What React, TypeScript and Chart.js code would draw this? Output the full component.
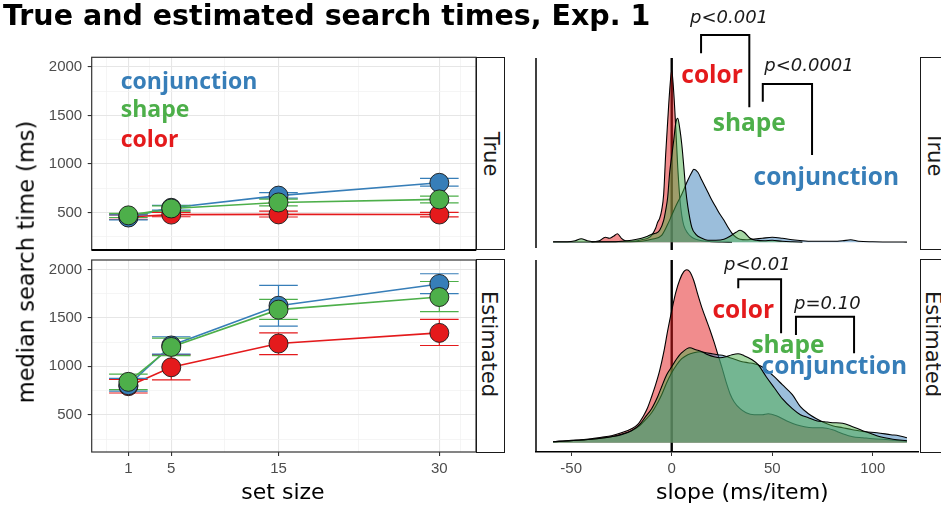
import React, { useEffect, useRef } from "react";
import { Chart, registerables } from "chart.js";

Chart.register(...registerables);

const RED = "#e41a1c";
const BLUE = "#377eb8";
const GREEN = "#4daf4a";
const AXIS_TEXT = "#4d4d4d";
const TICK_FAMILY = "'Liberation Sans', Arial, sans-serif";
const TEXT_FAMILY = "'DejaVu Sans', sans-serif";
const LABEL_FAMILY = "'Open Sans', 'Noto Sans', sans-serif";

// ================= DATA =================
// Left panels: median search time (ms) by set size
const setSizes = [1, 5, 15, 30];

const trueColorMedian = [455, 480, 482, 481];
const trueColorLow = [432, 458, 455, 457];
const trueColorHigh = [478, 502, 515, 502];
const trueConjMedian = [450, 550, 675, 807];
const trueConjLow = [425, 525, 650, 773];
const trueConjHigh = [478, 575, 705, 852];
const trueShapeMedian = [472, 543, 605, 636];
const trueShapeLow = [450, 515, 570, 601];
const trueShapeHigh = [492, 570, 640, 670];

const estColorMedian = [795, 990, 1235, 1345];
const estColorLow = [725, 860, 1120, 1215];
const estColorHigh = [865, 1120, 1345, 1485];
const estConjMedian = [805, 1215, 1625, 1850];
const estConjLow = [745, 1125, 1415, 1750];
const estConjHigh = [875, 1305, 1835, 1955];
const estShapeMedian = [840, 1200, 1585, 1715];
const estShapeLow = [760, 1110, 1485, 1565];
const estShapeHigh = [920, 1290, 1690, 1875];

const yTickValues = [500, 1000, 1500, 2000];
const yMinorValues = [250, 750, 1250, 1750];
const xTickValues = [1, 5, 15, 30];
const xMinorValues = [-1, 3, 10, 22.5, 32];
const slopeTickValues = [-50, 0, 50, 100];

// Right panels: density of slopes (ms/item); density axis hidden, arbitrary units
const trueColorSlope = [-40, -36, -33, -31, -29, -27, -25, -23, -20, -17, -14, -12, -10, -8, -7, -6, -5, -4, -3, -2, -1, 0, 1, 2, 3, 4, 5, 6, 8, 10, 12, 15, 20, 25, 30];
const trueColorDensity = [0.3, 1.5, 5, 4, 6, 8.5, 4, 1.5, 1, 1.5, 3, 4, 7, 14, 20, 24, 32, 48, 88, 121, 152, 172, 150, 115, 75, 45, 27, 17, 9, 5, 3, 1.5, 0.5, 0.3, 0.1];
const trueShapeSlope = [-59, -52, -48, -45, -42, -38, -30, -25, -20, -15, -12, -10, -8, -6, -4, -3, -2, -1, 0, 1, 2, 3, 4, 5, 6, 7, 8, 10, 12, 15, 18, 22, 26, 29, 32, 34, 36, 39, 42, 46, 50, 55, 60, 65];
const trueShapeDensity = [0.5, 0.5, 1.5, 3.5, 1.5, 0.5, 0.5, 1, 2, 4, 6, 8, 9, 12, 22, 32, 45, 70, 86, 102, 119, 124, 114, 98, 76, 52, 36, 15, 8, 4, 2, 2, 3, 6, 10, 12, 10, 4, 2, 1.5, 2, 1, 0.5, 0.2];
const trueConjSlope = [-59, -40, -25, -15, -10, -5, -2, 0, 2, 5, 8, 10, 11, 13, 15, 18, 20, 22, 24, 26, 28, 30, 32, 34, 37, 40, 45, 50, 55, 60, 65, 70, 80, 85, 89, 93, 100, 110, 117];
const trueConjDensity = [0.3, 0.3, 0.5, 1, 3, 7, 18, 27, 36, 48, 62, 70, 73, 70, 62, 50, 42, 35, 28, 22, 15, 9, 5, 3, 2.5, 3, 4, 5, 4, 2.5, 1.5, 1, 1, 1.5, 2.5, 1, 0.5, 0.3, 0.2];

const estColorSlope = [-59, -50, -45, -40, -35, -30, -25, -20, -17, -14, -12, -10, -8, -6, -4, -2, 0, 2, 4, 6, 7.5, 9, 11, 13, 15, 17, 19, 21, 23, 25, 27, 29, 31, 34, 37, 41, 45, 48, 52, 57, 62, 66, 70, 75, 80, 85, 90, 95, 100, 108, 117];
const estColorDensity = [1, 2.5, 3, 4, 5.5, 7, 10, 14, 18, 27, 35, 46, 58, 72, 90, 112, 132, 150, 163, 171, 173, 171, 162, 148, 135, 124, 113, 101, 88, 75, 61, 49, 41, 34, 30, 28, 28, 29, 27, 22, 18, 16, 15, 15, 13, 9, 6, 5, 4, 3, 1.5];
const estShapeSlope = [-59, -50, -40, -30, -25, -20, -16, -13, -10, -7, -5, -2.5, 0, 2.5, 5, 9, 12, 15, 18, 21, 24, 27, 30, 33, 36, 40, 43, 47, 51, 55, 60, 64, 68, 72, 76, 80, 85, 90, 95, 98, 102, 106, 110, 117];
const estShapeDensity = [1, 2, 3.5, 6, 8, 12, 18, 26, 34, 46, 56, 68, 76, 84, 90, 95, 93, 91, 88, 86, 85, 86, 88, 89, 87, 83, 78, 66, 55, 44, 34, 28, 25, 22, 21, 20, 19.5, 16, 12, 10, 7, 5, 3.5, 2];
const estConjSlope = [-59, -50, -40, -30, -25, -20, -16, -13, -10, -7, -5, -2.5, 0, 2.5, 5, 8, 11, 14, 17, 20, 23, 26, 29, 32, 35, 38, 41, 44, 47, 51, 55, 60, 64, 68, 72, 76, 80, 85, 90, 96, 102, 109, 113, 117];
const estConjDensity = [1, 2, 3.5, 6, 8.5, 12, 17, 23, 30, 40, 48, 60, 70, 78, 84, 88, 90, 91, 90, 89, 88, 87, 85, 83, 81, 80, 79, 77, 73, 66, 58, 48, 36, 29, 24, 20, 17, 15, 13, 11, 10, 8, 7, 5];

// ================= CONFIG =================
type Series = { name: string; color: string; median: number[]; low: number[]; high: number[] };

const trueSeries: Series[] = [
  { name: "color", color: RED, median: trueColorMedian, low: trueColorLow, high: trueColorHigh },
  { name: "conjunction", color: BLUE, median: trueConjMedian, low: trueConjLow, high: trueConjHigh },
  { name: "shape", color: GREEN, median: trueShapeMedian, low: trueShapeLow, high: trueShapeHigh },
];
const estSeries: Series[] = [
  { name: "color", color: RED, median: estColorMedian, low: estColorLow, high: estColorHigh },
  { name: "conjunction", color: BLUE, median: estConjMedian, low: estConjLow, high: estConjHigh },
  { name: "shape", color: GREEN, median: estShapeMedian, low: estShapeLow, high: estShapeHigh },
];

// in-panel legend (top-left panel), anchored in data coordinates
const legendItems = [
  { text: "conjunction", color: BLUE, x: 0.285, y: 1767 },
  { text: "shape", color: GREEN, x: 0.285, y: 1479 },
  { text: "color", color: RED, x: 0.285, y: 1171 },
];

type Anno = {
  labels: { text: string; color: string; x: number; y: number }[];
  pvals: { text: string; x: number; y: number }[];
  brackets: { x1: number; x2: number; top: number; b1: number; b2: number }[];
};

const trueAnno: Anno = {
  labels: [
    { text: "color", color: RED, x: 20.1, y: 159 },
    { text: "shape", color: GREEN, x: 38.6, y: 111.6 },
    { text: "conjunction", color: BLUE, x: 76.9, y: 57.3 },
  ],
  pvals: [
    { text: "p<0.001", x: 28.5, y: 219 },
    { text: "p<0.0001", x: 68.3, y: 171.3 },
  ],
  brackets: [
    { x1: 14.6, x2: 38.6, top: 207.3, b1: 189, b2: 135 },
    { x1: 45.3, x2: 69.8, top: 158.3, b1: 140.6, b2: 87.3 },
  ],
};
const estAnno: Anno = {
  labels: [
    { text: "color", color: RED, x: 35.6, y: 124.4 },
    { text: "shape", color: GREEN, x: 57.8, y: 90 },
    { text: "conjunction", color: BLUE, x: 80.9, y: 68.7 },
  ],
  pvals: [
    { text: "p<0.01", x: 42.6, y: 172.7 },
    { text: "p=0.10", x: 77.4, y: 133.4 },
  ],
  brackets: [
    { x1: 33.1, x2: 54.4, top: 163.4, b1: 154.4, b2: 109.4 },
    { x1: 61.8, x2: 90.7, top: 126, b1: 107.7, b2: 89.4 },
  ],
};

function rgba(hex: string, a: number) {
  const n = parseInt(hex.slice(1), 16);
  return `rgba(${(n >> 16) & 255},${(n >> 8) & 255},${n & 255},${a})`;
}

function makeLeftConfig(series: Series[], bottom: boolean, legend: boolean): any {
  const datasets: any[] = [];
  series.forEach((s, i) => {
    datasets.push({
      label: s.name + " trend",
      data: setSizes.map((x, j) => ({ x, y: s.median[j] })),
      borderColor: s.color,
      borderWidth: 1.6,
      pointRadius: 0,
      pointHoverRadius: 0,
      fill: false,
      tension: 0,
      order: 30 - i,
      errorBarsAfter: i === series.length - 1,
    });
  });
  series.forEach((s, i) => {
    datasets.push({
      label: s.name,
      data: setSizes.map((x, j) => ({ x, y: s.median[j] })),
      showLine: false,
      borderColor: s.color,
      pointRadius: 9.5,
      pointHoverRadius: 9.5,
      pointBackgroundColor: s.color,
      pointBorderColor: "#1a1a1a",
      pointBorderWidth: 0.9,
      order: 10 - i,
    });
  });

  const errorBars = {
    id: "errorBars",
    afterDatasetDraw(chart: any, args: any) {
      if (!chart.data.datasets[args.index].errorBarsAfter) return;
      const xs = chart.scales.x;
      const ys = chart.scales.y;
      const ctx = chart.ctx;
      ctx.save();
      series.forEach((s) => {
        ctx.strokeStyle = s.color;
        ctx.lineWidth = 1.2;
        setSizes.forEach((x, j) => {
          const px = xs.getPixelForValue(x);
          const half = xs.getPixelForValue(x + 1.8) - px;
          const lo = ys.getPixelForValue(s.low[j]);
          const hi = ys.getPixelForValue(s.high[j]);
          ctx.beginPath();
          ctx.moveTo(px, lo);
          ctx.lineTo(px, hi);
          ctx.moveTo(px - half, lo);
          ctx.lineTo(px + half, lo);
          ctx.moveTo(px - half, hi);
          ctx.lineTo(px + half, hi);
          ctx.stroke();
        });
      });
      ctx.restore();
    },
  };

  const frame = {
    id: "panelFrame",
    afterDraw(chart: any) {
      const a = chart.chartArea;
      const ctx = chart.ctx;
      ctx.save();
      ctx.strokeStyle = "#333333";
      ctx.lineWidth = 1.2;
      ctx.strokeRect(a.left, a.top, a.right - a.left, a.bottom - a.top);
      if (!bottom) {
        ctx.strokeStyle = "#000";
        ctx.lineWidth = 2;
        ctx.beginPath();
        ctx.moveTo(a.left, a.bottom);
        ctx.lineTo(a.right, a.bottom);
        ctx.stroke();
      }
      if (legend) {
        ctx.font = `bold 23px ${LABEL_FAMILY}`;
        ctx.textAlign = "left";
        ctx.textBaseline = "alphabetic";
        legendItems.forEach((it) => {
          ctx.fillStyle = it.color;
          ctx.fillText(it.text, chart.scales.x.getPixelForValue(it.x), chart.scales.y.getPixelForValue(it.y));
        });
      }
      ctx.restore();
    },
  };

  const isMajorY = (v: number) => yTickValues.indexOf(v) >= 0;
  const isMajorX = (v: number) => xTickValues.indexOf(v) >= 0;

  return {
    type: "line",
    data: { datasets },
    plugins: [errorBars, frame],
    options: {
      animation: false,
      responsive: false,
      maintainAspectRatio: false,
      devicePixelRatio: 1,
      events: [],
      layout: {
        autoPadding: false,
        padding: bottom ? { left: 0, right: 44, top: 5, bottom: 0 } : { left: 0, right: 44, top: 57.3, bottom: 5 },
      },
      plugins: { legend: { display: false }, tooltip: { enabled: false }, title: { display: false } },
      scales: {
        x: {
          type: "linear",
          min: -2.42,
          max: 33.42,
          afterBuildTicks: (sc: any) => {
            sc.ticks = [...xMinorValues, ...xTickValues].sort((a, b) => a - b).map((v) => ({ value: v }));
          },
          afterFit: (sc: any) => {
            sc.height = bottom ? 56 : 0;
            sc.paddingLeft = 0;
            sc.paddingRight = 0;
          },
          border: { display: false },
          grid: {
            color: (c: any) => (c.tick && isMajorX(c.tick.value) ? "#e6e6e6" : "#f2f2f2"),
            lineWidth: (c: any) => (c.tick && isMajorX(c.tick.value) ? 1.1 : 0.8),
            drawTicks: bottom,
            tickLength: 4,
            tickColor: (c: any) => (c.tick && isMajorX(c.tick.value) ? "#333333" : "rgba(0,0,0,0)"),
          },
          ticks: {
            display: bottom,
            autoSkip: false,
            maxRotation: 0,
            padding: 4,
            color: AXIS_TEXT,
            font: { family: TICK_FAMILY, size: 15 },
            callback: (v: any) => (isMajorX(v) ? String(v) : ""),
          },
        },
        y: {
          type: "linear",
          min: 116,
          max: 2097,
          afterBuildTicks: (sc: any) => {
            sc.ticks = [...yMinorValues, ...yTickValues].sort((a, b) => a - b).map((v) => ({ value: v }));
          },
          afterFit: (sc: any) => {
            sc.width = 91.7;
            sc.paddingTop = 0;
            sc.paddingBottom = 0;
          },
          border: { display: false },
          grid: {
            color: (c: any) => (c.tick && isMajorY(c.tick.value) ? "#e6e6e6" : "#f2f2f2"),
            lineWidth: (c: any) => (c.tick && isMajorY(c.tick.value) ? 1.1 : 0.8),
            drawTicks: true,
            tickLength: 4,
            tickColor: (c: any) => (c.tick && isMajorY(c.tick.value) ? "#333333" : "rgba(0,0,0,0)"),
          },
          ticks: {
            autoSkip: false,
            padding: 5.5,
            color: AXIS_TEXT,
            font: { family: TICK_FAMILY, size: 15 },
            callback: (v: any) => (isMajorY(v) ? String(v) : ""),
          },
        },
      },
    },
  };
}

type Curve = { name: string; color: string; slope: number[]; density: number[] };

const trueCurves: Curve[] = [
  { name: "color", color: RED, slope: trueColorSlope, density: trueColorDensity },
  { name: "conjunction", color: BLUE, slope: trueConjSlope, density: trueConjDensity },
  { name: "shape", color: GREEN, slope: trueShapeSlope, density: trueShapeDensity },
];
const estCurves: Curve[] = [
  { name: "color", color: RED, slope: estColorSlope, density: estColorDensity },
  { name: "conjunction", color: BLUE, slope: estConjSlope, density: estConjDensity },
  { name: "shape", color: GREEN, slope: estShapeSlope, density: estShapeDensity },
];

function makeDensityConfig(curves: Curve[], bottom: boolean, yMin: number, yMax: number, anno: Anno): any {
  const datasets = curves.map((c, i) => ({
    label: c.name,
    data: c.slope.map((x, j) => ({ x, y: c.density[j] })),
    borderColor: "#000",
    borderWidth: 1.1,
    backgroundColor: rgba(c.color, 0.5),
    fill: "origin",
    pointRadius: 0,
    pointHoverRadius: 0,
    cubicInterpolationMode: "monotone",
    order: 3 - i,
  }));

  const decor = {
    id: "densityDecor",
    beforeDatasetsDraw(chart: any) {
      const a = chart.chartArea;
      const ctx = chart.ctx;
      const x0 = chart.scales.x.getPixelForValue(0);
      ctx.save();
      ctx.strokeStyle = "#000";
      ctx.lineWidth = 2.4;
      ctx.beginPath();
      ctx.moveTo(x0, a.top);
      ctx.lineTo(x0, a.bottom);
      ctx.stroke();
      ctx.restore();
    },
    afterDraw(chart: any) {
      const a = chart.chartArea;
      const ctx = chart.ctx;
      const xs = chart.scales.x;
      const ys = chart.scales.y;
      ctx.save();
      ctx.strokeStyle = "#000";
      ctx.lineWidth = 1.5;
      ctx.beginPath();
      ctx.moveTo(a.left, a.top);
      ctx.lineTo(a.left, bottom ? a.bottom : a.bottom - 2);
      ctx.stroke();

      ctx.lineWidth = 2;
      ctx.lineJoin = "miter";
      anno.brackets.forEach((b) => {
        ctx.beginPath();
        ctx.moveTo(xs.getPixelForValue(b.x1), ys.getPixelForValue(b.b1));
        ctx.lineTo(xs.getPixelForValue(b.x1), ys.getPixelForValue(b.top));
        ctx.lineTo(xs.getPixelForValue(b.x2), ys.getPixelForValue(b.top));
        ctx.lineTo(xs.getPixelForValue(b.x2), ys.getPixelForValue(b.b2));
        ctx.stroke();
      });

      ctx.textAlign = "center";
      ctx.textBaseline = "alphabetic";
      ctx.font = `italic 18px ${TEXT_FAMILY}`;
      ctx.fillStyle = "#1a1a1a";
      anno.pvals.forEach((p) => {
        ctx.fillText(p.text, xs.getPixelForValue(p.x), ys.getPixelForValue(p.y));
      });
      ctx.font = `bold 24.5px ${LABEL_FAMILY}`;
      anno.labels.forEach((l) => {
        ctx.fillStyle = l.color;
        ctx.fillText(l.text, xs.getPixelForValue(l.x), ys.getPixelForValue(l.y));
      });
      ctx.restore();
    },
  };

  return {
    type: "line",
    data: { datasets },
    plugins: [decor],
    options: {
      animation: false,
      responsive: false,
      maintainAspectRatio: false,
      devicePixelRatio: 1,
      events: [],
      layout: {
        autoPadding: false,
        padding: bottom ? { left: 16, right: 23, top: 5, bottom: 0 } : { left: 16, right: 23, top: 58, bottom: 5 },
      },
      plugins: { legend: { display: false }, tooltip: { enabled: false }, title: { display: false } },
      scales: {
        x: {
          type: "linear",
          min: -67.5,
          max: 122.5,
          display: bottom,
          afterBuildTicks: (sc: any) => {
            sc.ticks = slopeTickValues.map((v) => ({ value: v }));
          },
          afterFit: (sc: any) => {
            sc.height = bottom ? 56 : 0;
            sc.paddingLeft = 0;
            sc.paddingRight = 0;
          },
          border: { display: true, color: "#000", width: 1.5 },
          grid: { drawOnChartArea: false, drawTicks: true, tickLength: 4, tickColor: "#333333", color: "#333333" },
          ticks: {
            autoSkip: false,
            maxRotation: 0,
            padding: 4,
            color: AXIS_TEXT,
            font: { family: TICK_FAMILY, size: 15 },
            callback: (v: any) => String(v),
          },
        },
        y: {
          type: "linear",
          min: yMin,
          max: yMax,
          display: false,
          afterFit: (sc: any) => {
            sc.paddingTop = 0;
            sc.paddingBottom = 0;
          },
        },
      },
    },
  };
}

function ChartCanvas(props: { left: number; top: number; width: number; height: number; make: () => any }) {
  const ref = useRef<HTMLCanvasElement>(null);
  useEffect(() => {
    const chart = new Chart(ref.current as HTMLCanvasElement, props.make());
    return () => chart.destroy();
  }, []);
  return (
    <canvas
      ref={ref}
      width={props.width}
      height={props.height}
      style={{ position: "absolute", left: props.left, top: props.top, width: props.width, height: props.height }}
    />
  );
}

function Strip(props: { left: number; top: number; width: number; height: number; text: string; shift?: number }) {
  return (
    <div
      style={{
        position: "absolute",
        left: props.left,
        top: props.top,
        width: props.width,
        height: props.height,
        boxSizing: "border-box",
        border: "1.8px solid #1a1a1a",
        background: "#fff",
      }}
    >
      <div
        style={{
          position: "absolute",
          left: "50%",
          top: `calc(50% + ${props.shift || 0}px)`,
          transform: "translate(-52%, -50%) rotate(90deg)",
          fontFamily: TEXT_FAMILY,
          fontSize: 21,
          lineHeight: "21px",
          whiteSpace: "nowrap",
          color: "#1a1a1a",
        }}
      >
        {props.text}
      </div>
    </div>
  );
}

export default function App() {
  return (
    <div
      style={{
        position: "absolute",
        left: 0,
        top: 0,
        width: 941,
        height: 508,
        overflow: "hidden",
        background: "#fff",
      }}
    >
      <ChartCanvas left={0} top={0} width={520} height={255} make={() => makeLeftConfig(trueSeries, false, true)} />
      <ChartCanvas left={0} top={255} width={520} height={253} make={() => makeLeftConfig(estSeries, true, false)} />
      <ChartCanvas left={520} top={0} width={421} height={255} make={() => makeDensityConfig(trueCurves, false, -7.7, 184.3, trueAnno)} />
      <ChartCanvas left={520} top={255} width={421} height={253} make={() => makeDensityConfig(estCurves, true, -9.3, 182.7, estAnno)} />

      <Strip left={476} top={57.3} width={29} height={192.7} text="True" />
      <Strip left={476} top={259} width={29} height={193.5} text="Estimated" shift={-12} />
      <Strip left={920} top={57.3} width={30} height={192.7} text="True" />
      <Strip left={920} top={259} width={30} height={193.5} text="Estimated" shift={-12} />

      <div
        style={{
          position: "absolute",
          left: 3,
          top: 2.4,
          fontFamily: TEXT_FAMILY,
          fontWeight: "bold",
          fontSize: 28.5,
          lineHeight: "28.5px",
          whiteSpace: "nowrap",
          color: "#000",
        }}
      >
        True and estimated search times, Exp. 1
      </div>

      <div
        style={{
          position: "absolute",
          left: 25.5,
          top: 261.5,
          transform: "translate(-50%, -50%) rotate(-90deg)",
          fontFamily: TEXT_FAMILY,
          fontSize: 22.5,
          lineHeight: "22.5px",
          whiteSpace: "nowrap",
          color: "#000",
        }}
      >
        median search time (ms)
      </div>

      <div
        style={{
          position: "absolute",
          left: 283,
          top: 480.7,
          transform: "translateX(-50%)",
          fontFamily: TEXT_FAMILY,
          fontSize: 22,
          lineHeight: "22px",
          whiteSpace: "nowrap",
          color: "#000",
        }}
      >
        set size
      </div>

      <div
        style={{
          position: "absolute",
          left: 742.3,
          top: 480.7,
          transform: "translateX(-50%)",
          fontFamily: TEXT_FAMILY,
          fontSize: 22,
          lineHeight: "22px",
          whiteSpace: "nowrap",
          color: "#000",
        }}
      >
        slope (ms/item)
      </div>
    </div>
  );
}
